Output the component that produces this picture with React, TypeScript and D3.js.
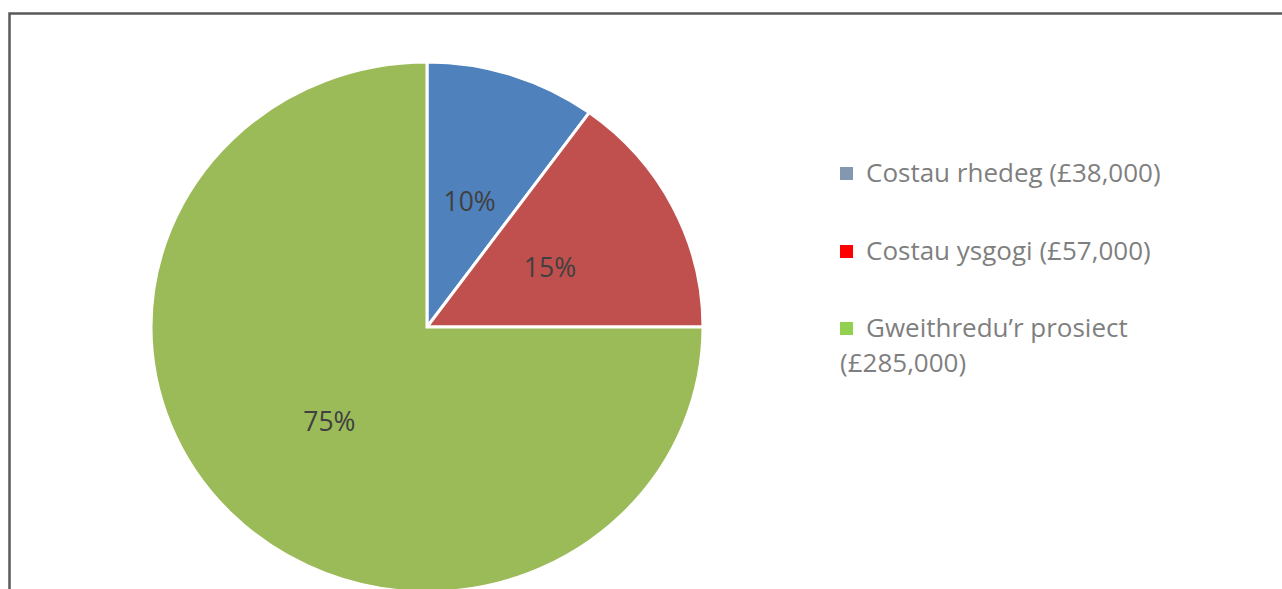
import React from "react";
import * as d3 from "d3";

const categories = ["Costau rhedeg", "Costau ysgogi", "Gweithredu\u2019r prosiect"];
const values = [38000, 57000, 285000];
const legendLabels = [
  ["Costau rhedeg (£38,000)"],
  ["Costau ysgogi (£57,000)"],
  ["Gweithredu\u2019r prosiect", "(£285,000)"],
];
const sliceColors = ["#4F81BD", "#C0504D", "#9BBB59"];
const legendColors = ["#8497B0", "#FF0000", "#92D050"];

export default function App() {
  const W = 1282;
  const H = 589;
  const cx = 427;
  const cy = 327;
  const R = 265;
  const sx = 276 / 265;

  const pie = d3.pie<number>().sort(null).value((d) => d);
  const arcs = pie(values);
  const arc = d3.arc<d3.PieArcDatum<number>>().innerRadius(0).outerRadius(R);
  const total = d3.sum(values);
  const fmt = d3.format(".0%");

  const legendX = 840;
  const legendRows = [182, 260, 337];
  const lineH = 35;

  return (
    <svg
      width={W}
      height={H}
      style={{ position: "absolute", left: 0, top: 0, background: "#fff" }}
      fontFamily="'Open Sans', 'Noto Sans', sans-serif"
    >
      <rect x={0} y={0} width={W} height={H} fill="#fff" />
      <rect x={9.5} y={13.5} width={W + 20} height={H + 20} fill="none" stroke="#595959" strokeWidth={2.5} />
      <g transform={`translate(${cx},${cy}) scale(${sx},1)`}>
        {arcs.map((a, i) => (
          <path
            key={categories[i]}
            d={arc(a) || ""}
            fill={sliceColors[i]}
            stroke="#fff"
            strokeWidth={3}
            vectorEffect="non-scaling-stroke"
          />
        ))}
      </g>
      {arcs.map((a, i) => {
        const [x, y] = arc.centroid(a);
        return (
          <text
            key={"l" + i}
            x={cx + x * sx}
            y={cy + y}
            textAnchor="middle"
            dominantBaseline="central"
            fontSize={26.5}
            fill="#404040"
          >
            {fmt(a.value / total)}
          </text>
        );
      })}
      {legendLabels.map((lines, i) => (
        <g key={"lg" + i}>
          <rect x={legendX} y={legendRows[i] - 15} width={13} height={13} fill={legendColors[i]} />
          {lines.map((t, j) => (
            <text
              key={j}
              x={j === 0 ? legendX + 26 : legendX}
              y={legendRows[i] + j * lineH}
              fontSize={26}
              fill="#7F7F7F"
            >
              {t}
            </text>
          ))}
        </g>
      ))}
    </svg>
  );
}
